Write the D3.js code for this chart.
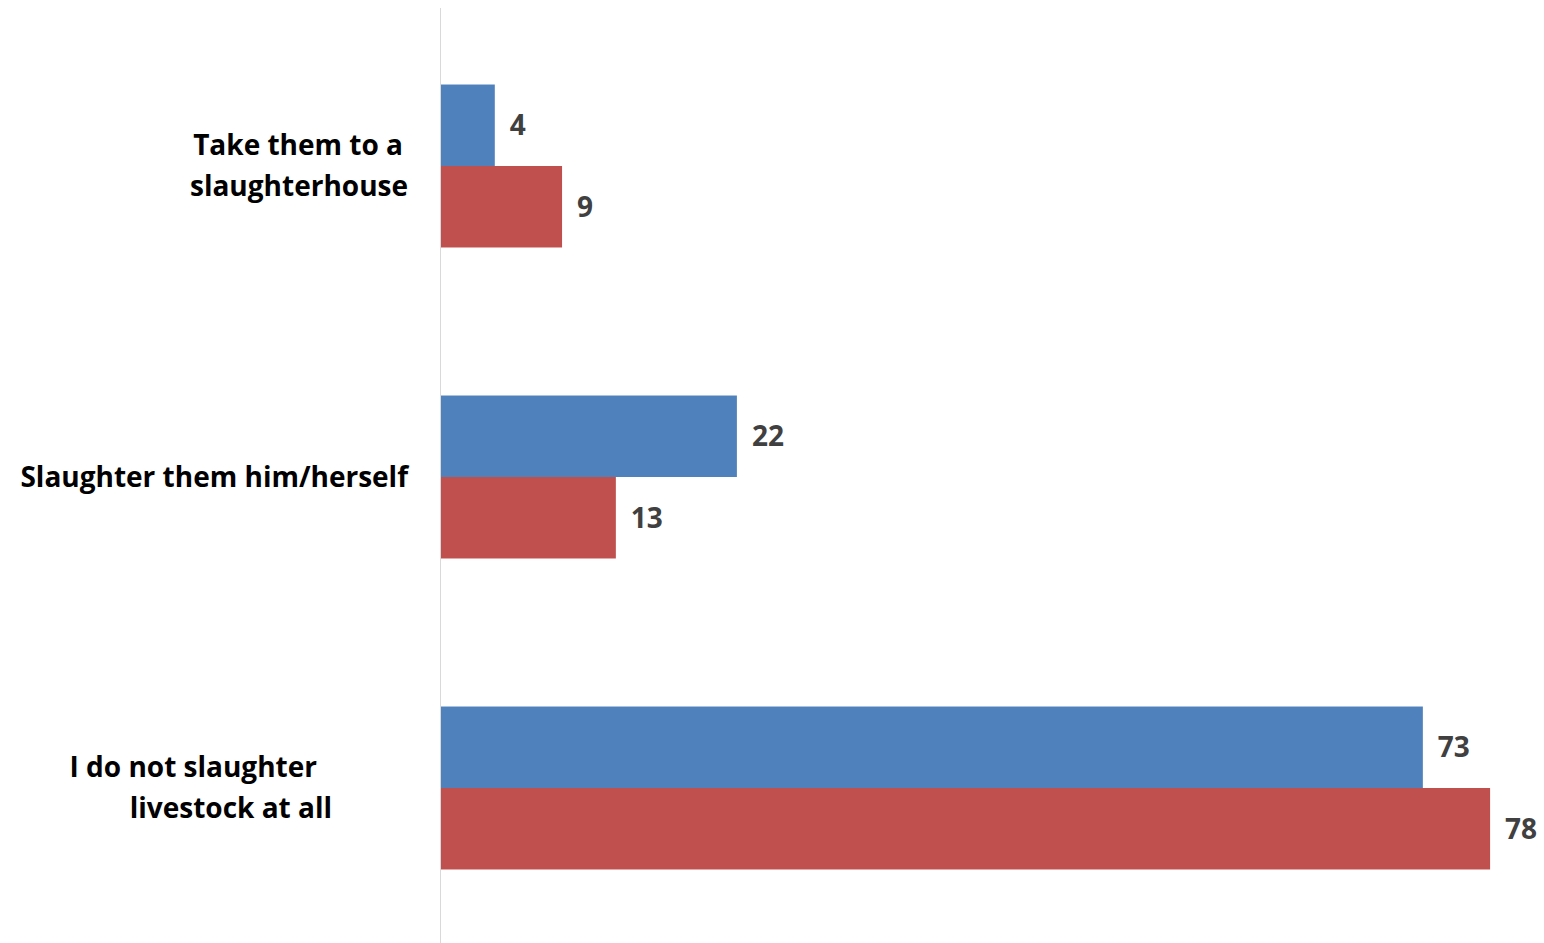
<!DOCTYPE html>
<html><head><meta charset="utf-8">
<script src="https://cdn.jsdelivr.net/npm/d3@7"></script>
<style>html,body{margin:0;padding:0;background:#fff;}svg{display:block;}</style>
</head><body>
<svg id="chart" width="1544" height="943"></svg>
<script>
const categories = ["Take them to a slaughterhouse", "Slaughter them him/herself", "I do not slaughter livestock at all"];
const categoryLines = [["Take them to a", "slaughterhouse"], ["Slaughter them him/herself"], ["I do not slaughter", "livestock at all"]];
const seriesNames = ["Series A", "Series B"];
const seriesA = [4, 22, 73];
const seriesB = [9, 13, 78];

const colors = ["#4F81BD", "#C0504D"];
const svg = d3.select("#chart");
const font = "'Open Sans', Lato, sans-serif";

const x = d3.scaleLinear().domain([0, 80]).range([441, 1517]);
const y = d3.scaleBand().domain(categories).range([10.5, 943.5]).paddingInner(0.476).paddingOuter(0.238);
const yInner = d3.scaleBand().domain(seriesNames).range([0, y.bandwidth()]);

const data = categories.map((c, i) => ({cat: c, vals: [seriesA[i], seriesB[i]]}));

// axis line
svg.append("line").attr("x1", x(0) - 0.5).attr("x2", x(0) - 0.5).attr("y1", 8).attr("y2", 943)
  .attr("stroke", "#d9d9d9").attr("stroke-width", 1);

const g = svg.selectAll("g.cat").data(data).join("g").attr("class", "cat")
  .attr("transform", d => `translate(0,${y(d.cat)})`);

g.selectAll("rect").data(d => d.vals.map((v, j) => ({v, s: seriesNames[j], j})))
  .join("rect")
  .attr("x", x(0)).attr("y", d => yInner(d.s))
  .attr("width", d => x(d.v) - x(0)).attr("height", yInner.bandwidth())
  .attr("fill", d => colors[d.j]);

g.selectAll("text.val").data(d => d.vals.map((v, j) => ({v, s: seriesNames[j]})))
  .join("text").attr("class", "val")
  .attr("x", d => x(d.v) + 15)
  .attr("y", d => yInner(d.s) + yInner.bandwidth() / 2 + 10)
  .attr("font-family", font).attr("font-weight", "bold").attr("font-size", 28)
  .attr("fill", "#404040").text(d => d.v);

// category labels
const lineOffsets = [[-5, 0], [0], [-91, -76]];
categories.forEach((c, i) => {
  const cy = y(c) + y.bandwidth() / 2;
  const lines = categoryLines[i];
  lines.forEach((ln, k) => {
    const base = lines.length === 1 ? cy + 10 : cy - 11 + k * 41;
    svg.append("text").attr("x", 408 + lineOffsets[i][k]).attr("y", base)
      .attr("text-anchor", "end")
      .attr("font-family", font).attr("font-weight", "bold").attr("font-size", 28)
      .attr("fill", "#000").text(ln);
  });
});
</script>
</body></html>
